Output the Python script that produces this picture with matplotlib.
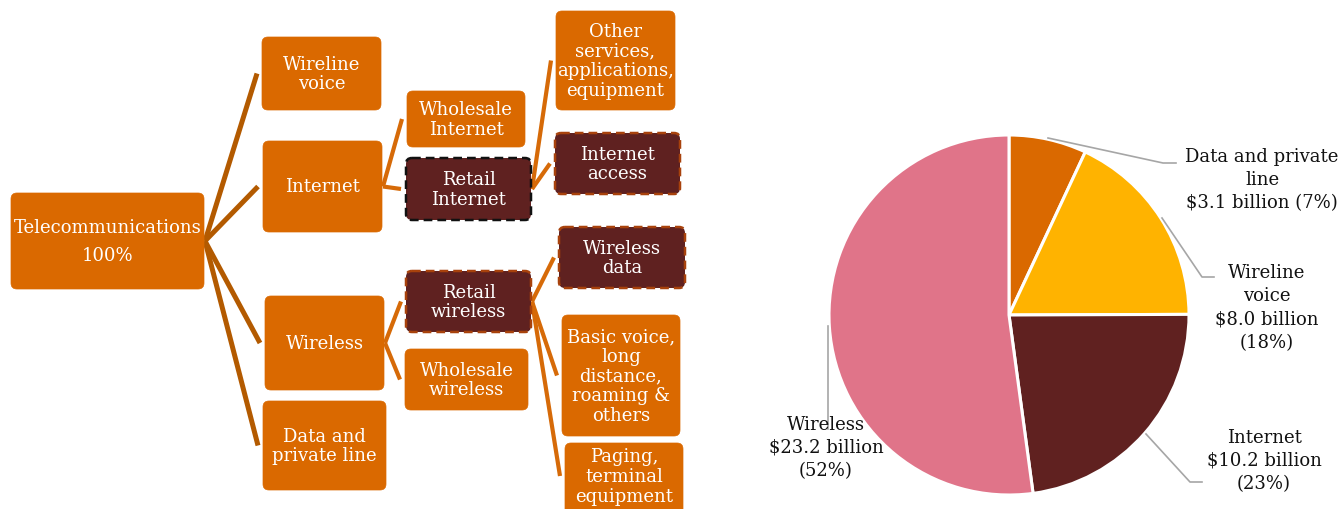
import matplotlib
matplotlib.use("Agg")
import matplotlib.pyplot as plt
from matplotlib.patches import FancyBboxPatch

plt.rcParams["font.family"] = ["DejaVu Serif"]

# ── data ──────────────────────────────────────────────────────────────────────
pie_labels = ["Data and private\nline", "Wireline\nvoice", "Internet", "Wireless"]
pie_values = [3.1, 8.0, 10.2, 23.2]          # $ billion
pie_shares = [7, 18, 23, 52]                 # % as printed
pie_colors = ["#DA6900", "#FFB300", "#602120", "#E07489"]

tree_labels = {
    "root": "Telecommunications\n100%",
    "wv": "Wireline\nvoice",
    "inet": "Internet",
    "wl": "Wireless",
    "dpl": "Data and\nprivate line",
    "whi": "Wholesale\nInternet",
    "rti": "Retail\nInternet",
    "oth": "Other\nservices,\napplications,\nequipment",
    "acc": "Internet\naccess",
    "rtw": "Retail\nwireless",
    "whw": "Wholesale\nwireless",
    "wdat": "Wireless\ndata",
    "bv": "Basic voice,\nlong\ndistance,\nroaming &\nothers",
    "pag": "Paging,\nterminal\nequipment",
}
tree_edges = [
    ("root", ["wv", "inet", "wl", "dpl"]),
    ("inet", ["whi", "rti"]),
    ("wl", ["rtw", "whw"]),
    ("rti", ["oth", "acc"]),
    ("rtw", ["wdat", "bv", "pag"]),
]

# ── layout (pixel coordinates, y down) ────────────────────────────────────────
BOX = {
    "root": (11, 194, 204, 290),
    "wv":   (262, 38, 381, 111),
    "inet": (263, 142, 382, 233),
    "wl":   (265, 297, 384, 391),
    "dpl":  (263, 402, 386, 491),
    "whi":  (407, 92, 525, 148),
    "rti":  (406, 159, 531, 221),
    "oth":  (556, 12, 675, 111),
    "acc":  (555, 134, 680, 195),
    "rtw":  (406, 272, 531, 333),
    "whw":  (405, 350, 528, 411),
    "wdat": (559, 228, 685, 289),
    "bv":   (562, 316, 680, 437),
    "pag":  (565, 444, 683, 516),
}
DARK = {"rti": "#111111", "acc": "#A8420C", "rtw": "#A8420C", "wdat": "#A8420C"}

ORANGE = "#DA6900"
MAROON = "#5F2120"
LINE1 = "#B35A00"
LINE2 = "#D66A08"
GREY = "#A6A6A6"

fig = plt.figure(figsize=(13.44, 5.10), dpi=100)

# pie axes (centre 1009,316  radius 180 px)
cx, cy, r = 1009, 316, 180
pax = fig.add_axes([(cx - r) / 1344, (510 - cy - r) / 510, 2 * r / 1344, 2 * r / 510])
pax.set_zorder(1)
pax.pie(pie_values, colors=pie_colors, startangle=90, counterclock=False,
        wedgeprops=dict(edgecolor="white", linewidth=2.2))
pax.set_xlim(-1, 1)
pax.set_ylim(-1, 1)
pax.set_aspect("equal")
pax.axis("off")

# overlay axes in pixel units
ax = fig.add_axes([0, 0, 1, 1])
ax.set_zorder(2)
ax.patch.set_alpha(0)
ax.set_xlim(0, 1344)
ax.set_ylim(510, 0)
ax.axis("off")

FS = 13


def node(key):
    x0, y0, x1, y1 = BOX[key]
    dark = key in DARK
    patch = FancyBboxPatch((x0, y0), x1 - x0, y1 - y0,
                           boxstyle="round,pad=0,rounding_size=6",
                           facecolor=MAROON if dark else ORANGE,
                           edgecolor=DARK[key] if dark else ORANGE,
                           linewidth=1.8 if dark else 0.5,
                           linestyle=(0, (3.5, 2)) if dark else "-",
                           zorder=3)
    ax.add_patch(patch)
    ty = (y0 + y1) / 2 if key != "pag" else 477
    ls = 1.65 if key == "root" else 1.12
    ax.text((x0 + x1) / 2, ty, tree_labels[key], color="white",
            ha="center", va="center", fontsize=FS, linespacing=ls, zorder=4)


for parent, kids in tree_edges:
    px0, py0, px1, py1 = BOX[parent]
    sx, sy = px1 + 1, (py0 + py1) / 2
    col = LINE1 if parent == "root" else LINE2
    lw = 3.6 if parent == "root" else 3.0
    for k in kids:
        kx0, ky0, kx1, ky1 = BOX[k]
        ey = (ky0 + min(ky1, 510)) / 2
        ax.plot([sx, kx0 - 5], [sy, ey], color=col, lw=lw,
                solid_capstyle="butt", zorder=2)

for key in BOX:
    node(key)

# ── pie labels and leaders ────────────────────────────────────────────────────
label_pos = [(1262, 180), (1267, 308), (1264, 461), (826, 448)]
leaders = [
    [(1048, 139), (1163, 164), (1176, 164)],
    [(1162, 219), (1202, 278), (1214, 278)],
    [(1146, 435), (1190, 483), (1202, 483)],
    [(828, 327), (828, 430)],
]
for lab, val, pct, (lx, ly), pts in zip(pie_labels, pie_values, pie_shares,
                                          label_pos, leaders):
    xs, ys = zip(*pts)
    ax.plot(xs, ys, color=GREY, lw=1.2, zorder=2)
    if lab.startswith("Data"):
        txt = f"{lab}\n${val:.1f} billion ({pct}%)"
    else:
        txt = f"{lab}\n${val:.1f} billion\n({pct}%)"
    ax.text(lx, ly, txt, ha="center", va="center", fontsize=FS,
            linespacing=1.38, color="#111111", zorder=5)

fig.savefig("out.png", dpi=100)
